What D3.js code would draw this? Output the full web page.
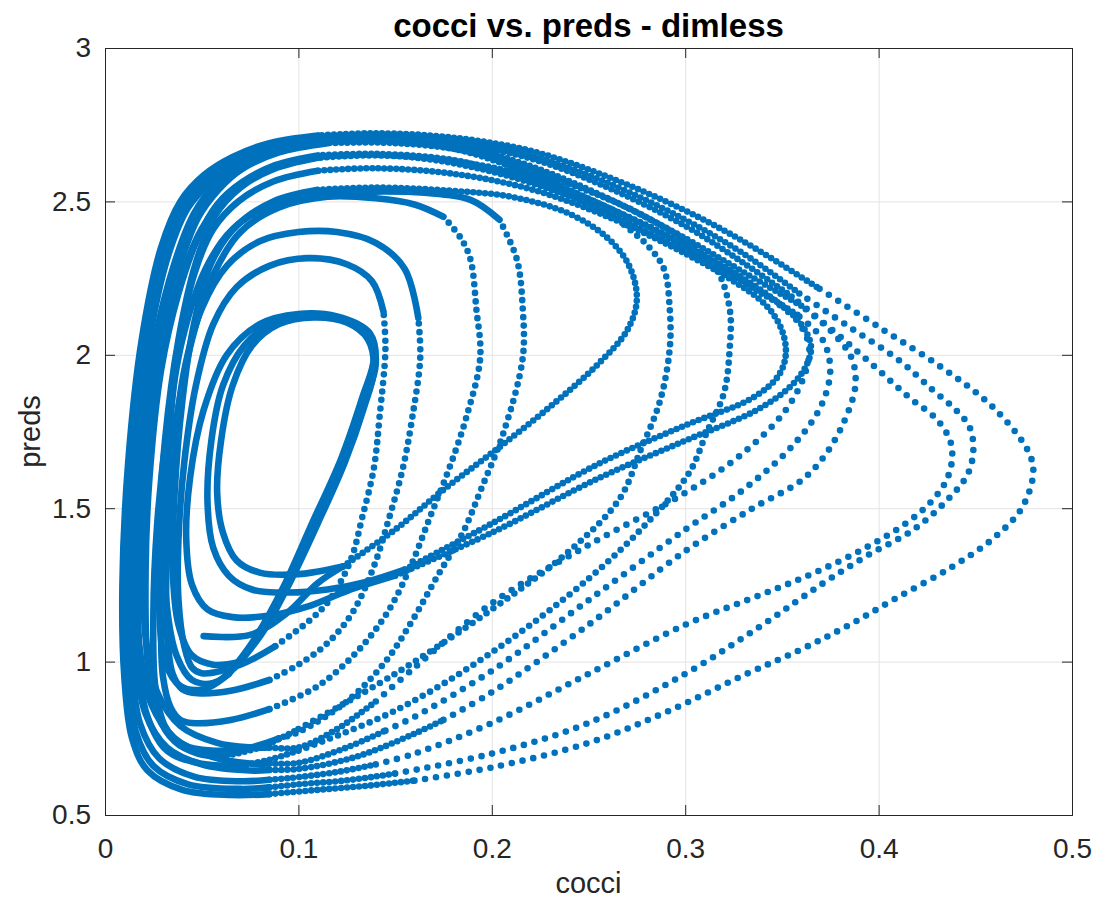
<!DOCTYPE html>
<html>
<head>
<meta charset="utf-8">
<script src="https://cdn.jsdelivr.net/npm/d3@7"></script>
<style>
  body { margin: 0; background: #fff; }
  text { font-family: "Liberation Sans", Arial, Helvetica, sans-serif; fill: #262626; }
</style>
</head>
<body>
<script>
// axis ticks
var cocciTicks = [0, 0.1, 0.2, 0.3, 0.4, 0.5];
var cocciTickLabels = ["0", "0.1", "0.2", "0.3", "0.4", "0.5"];
var predsTicks = [0.5, 1, 1.5, 2, 2.5, 3];
var predsTickLabels = ["0.5", "1", "1.5", "2", "2.5", "3"];

// trajectory pieces [cocci, preds], grouped by how densely the samples lie
// slow part of each cycle: samples overlap into a solid line
var solidArcs = [
  // start tail
  [[0.051,1.083],[0.075,1.087],[0.094,1.158],[0.11,1.256],[0.123,1.31]],
  // inner cycles
  [[0.07,1.0],[0.082,1.1],[0.095,1.25],[0.11,1.45],[0.124,1.65],[0.134,1.83],[0.139,1.95],[0.136,2.05],[0.125,2.105],[0.108,2.122],[0.09,2.10],[0.076,2.03],[0.066,1.9],[0.06,1.72],[0.058,1.55],[0.061,1.42],[0.068,1.33],[0.08,1.29],[0.1,1.285],[0.123,1.31]],
  [[0.067,0.98],[0.079,1.08],[0.093,1.24],[0.108,1.44],[0.123,1.65],[0.134,1.84],[0.14,1.97],[0.137,2.07],[0.124,2.115],[0.105,2.13],[0.087,2.105],[0.072,2.03],[0.061,1.9],[0.055,1.72],[0.053,1.52],[0.056,1.37],[0.064,1.28],[0.076,1.235],[0.095,1.225],[0.115,1.235],[0.135,1.26],[0.155,1.3]],
  [[0.064,0.96],[0.077,1.07],[0.092,1.24],[0.107,1.45],[0.122,1.66],[0.133,1.86],[0.139,1.99],[0.135,2.08],[0.12,2.125],[0.1,2.133],[0.08,2.1],[0.063,2.0],[0.051,1.82],[0.044,1.6],[0.042,1.4],[0.045,1.25],[0.053,1.17],[0.066,1.145],[0.085,1.15],[0.105,1.18],[0.125,1.23],[0.15,1.28]],
  // left sides and bottoms
  [[0.11,2.538],[0.087,2.5],[0.068,2.42],[0.055,2.3],[0.046,2.1],[0.04,1.85],[0.036,1.55],[0.035,1.3],[0.038,1.12],[0.045,1.02],[0.056,0.99],[0.07,1.0]],
  [[0.11,2.6],[0.087,2.565],[0.069,2.5],[0.056,2.41],[0.046,2.26],[0.038,2.02],[0.033,1.72],[0.031,1.42],[0.032,1.18],[0.037,1.02],[0.045,0.94],[0.056,0.93],[0.067,0.98]],
  [[0.11,2.642],[0.087,2.605],[0.07,2.545],[0.057,2.455],[0.047,2.3],[0.038,2.05],[0.031,1.72],[0.028,1.42],[0.028,1.18],[0.031,1.0],[0.039,0.92],[0.051,0.91],[0.064,0.96]],
  [[0.144,2.14],[0.138,2.24],[0.125,2.295],[0.105,2.315],[0.085,2.29],[0.068,2.22],[0.056,2.1],[0.047,1.9],[0.041,1.65],[0.038,1.4],[0.038,1.2],[0.041,1.05],[0.045,0.98],[0.05,0.962],[0.07,0.99],[0.088,1.05]],
  [[0.162,2.12],[0.155,2.28],[0.14,2.365],[0.12,2.40],[0.10,2.40],[0.08,2.37],[0.063,2.29],[0.05,2.15],[0.041,1.95],[0.035,1.65],[0.032,1.35],[0.032,1.1],[0.035,0.96],[0.04,0.91],[0.048,0.897],[0.065,0.905],[0.085,0.94]],
  [[0.175,2.45],[0.16,2.49],[0.14,2.51],[0.115,2.515],[0.09,2.48],[0.07,2.40],[0.056,2.26],[0.045,2.05],[0.036,1.75],[0.031,1.45],[0.029,1.15],[0.03,0.95],[0.034,0.85],[0.039,0.81],[0.045,0.80],[0.065,0.81],[0.085,0.845]],
  [[0.204,2.44],[0.189,2.505],[0.165,2.528],[0.14,2.532],[0.11,2.525],[0.085,2.485],[0.066,2.41],[0.052,2.28],[0.04,2.05],[0.032,1.75],[0.027,1.45],[0.025,1.15],[0.026,0.92],[0.031,0.79],[0.04,0.73],[0.055,0.71],[0.075,0.72],[0.09,0.75]],
  [[0.11,2.65],[0.088,2.618],[0.071,2.563],[0.058,2.49],[0.048,2.38],[0.038,2.2],[0.029,1.95],[0.023,1.6],[0.021,1.3],[0.022,1.0],[0.027,0.83],[0.036,0.74],[0.048,0.7],[0.06,0.69]],
  [[0.115,2.69],[0.09,2.66],[0.072,2.61],[0.058,2.54],[0.047,2.44],[0.037,2.27],[0.027,2.05],[0.019,1.65],[0.016,1.3],[0.017,1.02],[0.022,0.82],[0.032,0.71],[0.048,0.67],[0.07,0.66]],
  [[0.11,2.715],[0.085,2.69],[0.066,2.645],[0.051,2.585],[0.039,2.5],[0.029,2.35],[0.019,2.05],[0.012,1.65],[0.009,1.25],[0.01,0.95],[0.014,0.75],[0.022,0.645],[0.04,0.582],[0.065,0.565],[0.085,0.568]],
  [[0.11,2.708],[0.085,2.682],[0.067,2.635],[0.053,2.575],[0.041,2.49],[0.031,2.34],[0.021,2.05],[0.014,1.65],[0.011,1.25],[0.012,0.96],[0.016,0.77],[0.025,0.66],[0.043,0.6],[0.07,0.585],[0.085,0.59]],
  [[0.11,2.70],[0.085,2.672],[0.068,2.625],[0.055,2.565],[0.043,2.48],[0.033,2.33],[0.023,2.05],[0.016,1.65],[0.013,1.25],[0.014,0.98],[0.018,0.8],[0.028,0.685],[0.046,0.625],[0.07,0.61],[0.085,0.615]],
  [[0.11,2.698],[0.087,2.67],[0.07,2.62],[0.057,2.555],[0.046,2.46],[0.036,2.3],[0.026,2.05],[0.018,1.65],[0.015,1.3],[0.016,1.02],[0.021,0.83],[0.032,0.72],[0.05,0.665],[0.075,0.645],[0.085,0.647]],
  [[0.11,2.692],[0.088,2.662],[0.072,2.612],[0.059,2.54],[0.048,2.445],[0.038,2.28],[0.028,2.05],[0.02,1.65],[0.017,1.3],[0.018,1.04],[0.024,0.86],[0.036,0.75],[0.055,0.69],[0.075,0.668],[0.085,0.668]],
  [[0.11,2.645],[0.089,2.612],[0.073,2.565],[0.061,2.5],[0.05,2.41],[0.04,2.26],[0.03,2.03],[0.022,1.65],[0.02,1.32],[0.021,1.08],[0.027,0.9],[0.039,0.79],[0.058,0.735],[0.075,0.72],[0.085,0.72]]
];

// samples just touching each other
var fineArcs = [
  [[0.123,1.31],[0.15,1.43],[0.175,1.56],[0.2,1.68],[0.23,1.83],[0.255,1.97],[0.27,2.08],[0.275,2.18],[0.271,2.29],[0.26,2.38],[0.24,2.46],[0.21,2.515],[0.178,2.535],[0.14,2.545],[0.11,2.538]],
  [[0.155,1.3],[0.2,1.45],[0.256,1.647],[0.3,1.77],[0.335,1.86],[0.348,1.93],[0.352,2.0],[0.35,2.08],[0.342,2.16],[0.325,2.24],[0.3,2.33],[0.26,2.45],[0.22,2.54],[0.18,2.59],[0.14,2.608],[0.11,2.6]],
  [[0.15,1.28],[0.2,1.42],[0.256,1.60],[0.3,1.72],[0.337,1.82],[0.355,1.9],[0.363,1.97],[0.365,2.03],[0.36,2.1],[0.35,2.16],[0.33,2.25],[0.3,2.36],[0.26,2.48],[0.22,2.58],[0.18,2.632],[0.14,2.65],[0.11,2.642]],
  [[0.265,2.44],[0.24,2.52],[0.21,2.585],[0.18,2.635],[0.14,2.655],[0.11,2.65]],
  [[0.299,2.38],[0.27,2.48],[0.23,2.58],[0.19,2.66],[0.15,2.69],[0.115,2.69]],
  [[0.368,2.221],[0.33,2.37],[0.30,2.47],[0.26,2.58],[0.22,2.665],[0.18,2.708],[0.14,2.722],[0.11,2.715]],
  [[0.359,2.20],[0.33,2.33],[0.30,2.44],[0.26,2.56],[0.22,2.65],[0.18,2.70],[0.14,2.716],[0.11,2.708]],
  [[0.355,2.19],[0.33,2.30],[0.30,2.42],[0.26,2.545],[0.22,2.64],[0.18,2.69],[0.14,2.71],[0.11,2.70]],
  [[0.36,2.16],[0.33,2.27],[0.30,2.38],[0.26,2.51],[0.22,2.615],[0.18,2.685],[0.14,2.705],[0.11,2.698]],
  [[0.358,2.13],[0.33,2.24],[0.30,2.35],[0.26,2.48],[0.22,2.59],[0.18,2.672],[0.14,2.70],[0.11,2.692]],
  [[0.345,2.18],[0.32,2.27],[0.29,2.37],[0.25,2.49],[0.21,2.58],[0.17,2.635],[0.135,2.652],[0.11,2.645]],
  // bottoms leaving the left band
  [[0.085,0.568],[0.11,0.582],[0.135,0.595],[0.16,0.612]],
  [[0.085,0.59],[0.10,0.60],[0.125,0.613],[0.15,0.635]],
  [[0.085,0.615],[0.095,0.62],[0.12,0.64],[0.14,0.665]],
  [[0.085,0.647],[0.10,0.65],[0.13,0.69],[0.16,0.765],[0.175,0.81]],
  [[0.085,0.668],[0.10,0.67],[0.125,0.72],[0.145,0.775]],
  [[0.085,0.72],[0.10,0.72],[0.12,0.78],[0.14,0.87]],
  [[0.06,0.69],[0.08,0.72],[0.1,0.78]],
  [[0.07,0.66],[0.085,0.68],[0.1,0.71]]
];

// separated samples, middle cycles
var midArcs = [
  [[0.088,1.05],[0.105,1.13],[0.116,1.2],[0.127,1.33],[0.133,1.47],[0.139,1.63],[0.142,1.80],[0.145,2.02],[0.144,2.14]],
  [[0.085,0.94],[0.1,0.99],[0.115,1.06],[0.128,1.16],[0.139,1.31],[0.147,1.47],[0.154,1.63],[0.159,1.80],[0.163,1.99],[0.162,2.12]],
  [[0.085,0.845],[0.11,0.92],[0.13,1.03],[0.146,1.16],[0.158,1.31],[0.168,1.47],[0.178,1.63],[0.187,1.80],[0.194,1.99],[0.192,2.15],[0.189,2.31],[0.184,2.38],[0.175,2.45]],
  [[0.09,0.75],[0.1,0.77],[0.125,0.87],[0.145,1.0],[0.159,1.135],[0.172,1.28],[0.185,1.42],[0.195,1.57],[0.206,1.745],[0.216,1.99],[0.216,2.15],[0.213,2.31],[0.204,2.44]],
  [[0.1,0.78],[0.15,0.96],[0.2,1.17],[0.24,1.36],[0.266,1.53],[0.277,1.69],[0.287,1.85],[0.292,2.02],[0.292,2.15],[0.289,2.28],[0.28,2.36],[0.265,2.44]],
  [[0.1,0.71],[0.15,0.84],[0.2,1.03],[0.25,1.27],[0.28,1.45],[0.302,1.615],[0.311,1.745],[0.32,1.875],[0.323,2.02],[0.323,2.15],[0.316,2.28],[0.299,2.38]]
];

// widely spaced samples, outer cycles
var coarseArcs = [
  [[0.16,0.612],[0.20,0.655],[0.25,0.735],[0.29,0.835],[0.33,0.955],[0.36,1.04],[0.385,1.12],[0.41,1.21],[0.437,1.305],[0.459,1.40],[0.474,1.50],[0.48,1.618],[0.477,1.69],[0.459,1.83],[0.433,1.957],[0.401,2.087],[0.368,2.221]],
  [[0.15,0.635],[0.20,0.70],[0.25,0.80],[0.30,0.96],[0.34,1.12],[0.37,1.25],[0.394,1.345],[0.418,1.43],[0.436,1.53],[0.446,1.61],[0.449,1.69],[0.447,1.765],[0.44,1.82],[0.428,1.885],[0.411,1.98],[0.385,2.09],[0.359,2.20]],
  [[0.14,0.665],[0.16,0.70],[0.20,0.80],[0.25,0.96],[0.30,1.12],[0.34,1.22],[0.367,1.29],[0.393,1.37],[0.414,1.45],[0.427,1.52],[0.435,1.59],[0.438,1.66],[0.437,1.72],[0.43,1.79],[0.416,1.86],[0.40,1.95],[0.38,2.06],[0.355,2.19]],
  [[0.175,0.81],[0.20,0.90],[0.25,1.12],[0.30,1.36],[0.335,1.5],[0.36,1.59],[0.372,1.67],[0.382,1.78],[0.388,1.90],[0.386,1.99],[0.375,2.08],[0.36,2.16]],
  [[0.145,0.775],[0.16,0.82],[0.20,0.97],[0.25,1.2],[0.30,1.43],[0.33,1.56],[0.355,1.7],[0.37,1.83],[0.375,1.95],[0.371,2.05],[0.358,2.13]],
  [[0.14,0.87],[0.16,0.98],[0.20,1.19],[0.25,1.38],[0.30,1.55],[0.33,1.68],[0.352,1.82],[0.362,1.94],[0.364,2.03],[0.358,2.11],[0.345,2.18]]
];

var svgWidth = 1098;
var svgHeight = 904;

var margin = {
  top: 48,
  right: 26,
  bottom: 89,
  left: 105
};

var width = svgWidth - margin.left - margin.right;
var height = svgHeight - margin.top - margin.bottom;

var svg = d3.select("body")
  .append("svg")
  .attr("width", svgWidth)
  .attr("height", svgHeight);

var chartGroup = svg.append("g")
  .attr("transform", `translate(${margin.left}, ${margin.top})`);

var xLinearScale = d3.scaleLinear().domain([0, 0.5]).range([0, width]);
var yLinearScale = d3.scaleLinear().domain([0.5, 3]).range([height, 0]);

// grid
chartGroup.append("g")
  .attr("class", "grid")
  .attr("transform", `translate(0, ${height})`)
  .call(d3.axisBottom(xLinearScale).tickValues(cocciTicks).tickSize(-height).tickFormat(""));
chartGroup.append("g")
  .attr("class", "grid")
  .call(d3.axisLeft(yLinearScale).tickValues(predsTicks).tickSize(-width).tickFormat(""));
chartGroup.selectAll(".grid .domain").remove();

// trajectory
var line = d3.line()
  .x(d => xLinearScale(d[0]))
  .y(d => yLinearScale(d[1]))
  .curve(d3.curveCatmullRom.alpha(0.5));

var blue = "#0072bd";

function drawArcs(arcs, dash) {
  chartGroup.append("g")
    .selectAll("path")
    .data(arcs)
    .enter()
    .append("path")
    .attr("d", line)
    .attr("fill", "none")
    .attr("stroke", blue)
    .attr("stroke-width", 6.6)
    .attr("stroke-linecap", "round")
    .attr("stroke-linejoin", "round")
    .attr("stroke-dasharray", dash);
}

drawArcs(solidArcs, null);
drawArcs(fineArcs, "0 6");
drawArcs(midArcs, "0 8.5");
drawArcs(coarseArcs, "0 11");

// axes
var bottomAxis = d3.axisBottom(xLinearScale)
  .tickValues(cocciTicks)
  .tickFormat((d, i) => cocciTickLabels[i])
  .tickSize(-10)
  .tickPadding(23);
var leftAxis = d3.axisLeft(yLinearScale)
  .tickValues(predsTicks)
  .tickFormat((d, i) => predsTickLabels[i])
  .tickSize(-10)
  .tickPadding(14);

var xAxis = chartGroup.append("g")
  .attr("class", "axis")
  .attr("transform", `translate(0, ${height})`)
  .call(bottomAxis);
var yAxis = chartGroup.append("g")
  .attr("class", "axis")
  .call(leftAxis);
chartGroup.append("g")
  .attr("class", "axis")
  .call(d3.axisTop(xLinearScale).tickValues(cocciTicks).tickSize(-10).tickFormat(""));
chartGroup.append("g")
  .attr("class", "axis")
  .attr("transform", `translate(${width}, 0)`)
  .call(d3.axisRight(yLinearScale).tickValues(predsTicks).tickSize(-10).tickFormat(""));

chartGroup.selectAll(".axis .domain, .axis .tick line").attr("stroke", "#262626").attr("stroke-width", 1);
chartGroup.selectAll(".grid line").attr("stroke", "#e3e3e3").attr("stroke-width", 1);
chartGroup.selectAll(".axis text").attr("font-size", 28).attr("font-family", null).attr("fill", "#262626");

// labels
svg.append("text")
  .attr("x", margin.left + width / 2)
  .attr("y", 37)
  .attr("text-anchor", "middle")
  .attr("font-size", 33)
  .attr("font-weight", "bold")
  .style("fill", "#000")
  .text("cocci vs. preds - dimless");

svg.append("text")
  .attr("x", margin.left + width / 2)
  .attr("y", 893)
  .attr("text-anchor", "middle")
  .attr("font-size", 29)
  .text("cocci");

svg.append("text")
  .attr("transform", `translate(40, ${margin.top + height / 2}) rotate(-90)`)
  .attr("text-anchor", "middle")
  .attr("font-size", 29)
  .text("preds");
</script>
</body>
</html>
